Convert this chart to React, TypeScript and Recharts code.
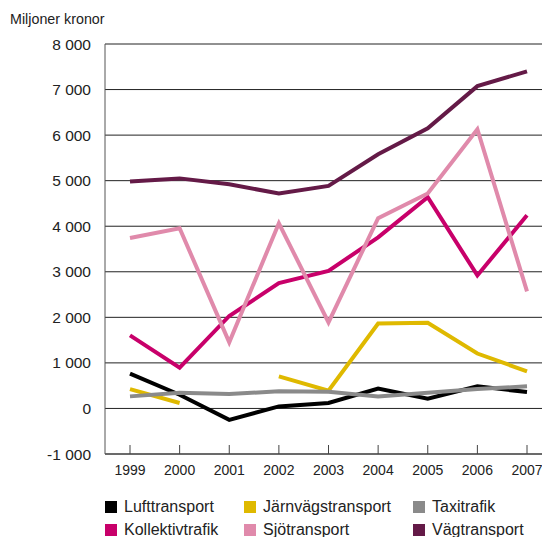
import { LineChart, Line, XAxis, YAxis, CartesianGrid } from "recharts"

const years = ["1999", "2000", "2001", "2002", "2003", "2004", "2005", "2006", "2007"]

const lufttransport = [765, 300, -250, 45, 120, 435, 215, 485, 360]
const jarnvagstransport = [425, 120, null, 705, 390, 1865, 1880, 1205, 815]
const taxitrafik = [265, 345, 315, 375, 365, 265, 345, 425, 485]
const kollektivtrafik = [1605, 895, 2030, 2750, 3020, 3755, 4635, 2920, 4240]
const sjotransport = [3740, 3955, 1450, 4065, 1890, 4175, 4720, 6130, 2570]
const vagtransport = [4980, 5050, 4920, 4720, 4885, 5580, 6150, 7075, 7400]

const yTicks = [-1000, 0, 1000, 2000, 3000, 4000, 5000, 6000, 7000, 8000]

const series = [
  { key: "luft", name: "Lufttransport", color: "#000000", values: lufttransport },
  { key: "jarnvag", name: "Järnvägstransport", color: "#dfb900", values: jarnvagstransport },
  { key: "taxi", name: "Taxitrafik", color: "#8a8a8a", values: taxitrafik },
  { key: "kollektiv", name: "Kollektivtrafik", color: "#c8006a", values: kollektivtrafik },
  { key: "sjo", name: "Sjötransport", color: "#e08aab", values: sjotransport },
  { key: "vag", name: "Vägtransport", color: "#641a47", values: vagtransport },
]

const data = years.map((year, i) => {
  const row: any = { year }
  series.forEach((s) => {
    row[s.key] = s.values[i]
  })
  return row
})

const fmt = (v: number) => {
  const s = Math.abs(v).toString().replace(/\B(?=(\d{3})+(?!\d))/g, " ")
  return v < 0 ? "-" + s : s
}

const font = "'Liberation Sans', Arial, sans-serif"

function LegendBox() {
  const cols = [105, 244, 413]
  return (
    <div style={{ position: "absolute", left: 0, top: 498, width: 542, height: 39, fontFamily: font, fontSize: 16, color: "#222" }}>
      {series.map((s, i) => (
        <div
          key={s.key}
          style={{
            position: "absolute",
            left: cols[i % 3],
            top: i < 3 ? 0 : 23,
            height: 18,
            display: "flex",
            alignItems: "center",
            whiteSpace: "nowrap",
          }}
        >
          <span style={{ display: "inline-block", width: 12, height: 12, background: s.color, marginRight: 7 }} />
          <span>{s.name}</span>
        </div>
      ))}
    </div>
  )
}

export default function App() {
  return (
    <div style={{ position: "absolute", left: 0, top: 0, width: 542, height: 537, background: "#fff", fontFamily: font }}>
      <div style={{ position: "absolute", left: 10, top: 11, fontSize: 14.3, color: "#222" }}>Miljoner kronor</div>
      <LineChart width={542} height={537} data={data} margin={{ top: 44, right: 0, bottom: 53, left: 0 }}>
        <CartesianGrid vertical={false} stroke="#222" strokeWidth={1} />
        <XAxis
          dataKey="year"
          padding={{ left: 25, right: 15 }}
          tickSize={-9}
          tickMargin={20}
          height={30}
          stroke="#444"
          tick={{ fill: "#222", fontSize: 14, fontFamily: font }}
          interval={0}
        />
        <YAxis
          domain={[-1000, 8000]}
          ticks={yTicks}
          width={105}
          tickLine={false}
          tickMargin={8}
          stroke="#555"
          tickFormatter={fmt}
          tick={{ fill: "#222", fontSize: 15.5, fontFamily: font }}
          interval={0}
        />
        {series.map((s) => (
          <Line
            key={s.key}
            dataKey={s.key}
            name={s.name}
            stroke={s.color}
            strokeWidth={4}
            dot={false}
            activeDot={false}
            connectNulls={false}
            isAnimationActive={false}
          />
        ))}
      </LineChart>
      <LegendBox />
    </div>
  )
}
